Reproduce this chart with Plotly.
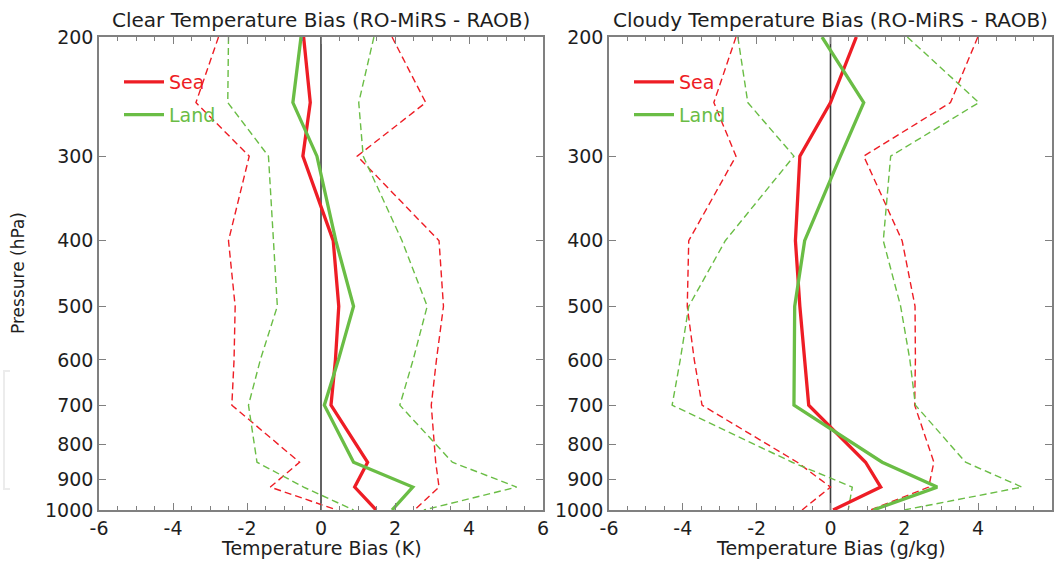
import plotly.graph_objects as go
import numpy as np

# Pressure levels (hPa)
pressure = [200, 250, 300, 400, 500, 600, 700, 850, 925, 1000]

# Clear panel (K)
clear_sea_mean = [-0.47, -0.29, -0.49, 0.33, 0.48, 0.39, 0.27, 1.26, 0.91, 1.49]
clear_sea_lo   = [-2.77, -3.38, -1.94, -2.50, -2.32, -2.35, -2.41, -0.58, -1.37, 0.43]
clear_sea_hi   = [1.92, 2.83, 0.98, 3.19, 3.31, 3.12, 2.98, 3.10, 3.19, 2.53]
clear_land_mean = [-0.54, -0.76, -0.11, 0.40, 0.88, 0.47, 0.09, 0.88, 2.48, 1.92]
clear_land_lo   = [-2.50, -2.52, -1.42, -1.28, -1.18, -1.64, -1.96, -1.73, -0.47, 0.88]
clear_land_hi   = [1.43, 1.02, 1.14, 2.19, 2.87, 2.49, 2.13, 3.55, 5.29, 2.78]

# Cloudy panel (g/kg)
cloudy_sea_mean = [0.70, 0.00, -0.83, -0.95, -0.83, -0.70, -0.59, 0.95, 1.36, 0.07]
cloudy_sea_lo   = [-2.56, -3.16, -2.56, -3.84, -3.88, -3.69, -3.48, -0.90, 0.00, -0.77]
cloudy_sea_hi   = [3.99, 3.25, 0.90, 1.94, 2.29, 2.30, 2.28, 2.80, 2.66, 1.08]
cloudy_land_mean = [-0.23, 0.90, 0.27, -0.70, -0.97, -0.99, -0.99, 1.40, 2.89, 1.16]
cloudy_land_lo   = [-2.51, -2.24, -0.99, -2.85, -3.84, -4.07, -4.29, -1.04, 0.59, 0.48]
cloudy_land_hi   = [2.08, 4.02, 1.63, 1.43, 1.90, 2.15, 2.30, 3.66, 5.19, 1.99]

ytick_vals = [200, 300, 400, 500, 600, 700, 800, 900, 1000]
xtick_vals = [-6, -4, -2, 0, 2, 4, 6]
xtick_text = ["-6", "-4", "-2", "0", "2", "4", "6"]

panel_titles = ["Clear Temperature Bias (RO-MiRS - RAOB)",
                "Cloudy Temperature Bias (RO-MiRS - RAOB)"]
x_titles = ["Temperature Bias (K)", "Temperature Bias (g/kg)"]
y_title = "Pressure (hPa)"

RED = "#ee1d25"
GREEN = "#6abd45"
FONT = "DejaVu Sans, Verdana, sans-serif"
TXT = "#1e1e1e"
AXC = "#808080"

W, H = 1057, 562
ML, MR, MT, MB = 99, 5, 37, 52
PW, PH = W - ML - MR, H - MT - MB


def px_x(p):
    return (p - ML) / PW


def px_y(p):
    return (H - MB - p) / PH


fig = go.Figure()

panels = [
    (clear_sea_mean, clear_sea_lo, clear_sea_hi, clear_land_mean, clear_land_lo, clear_land_hi, "x", "y", "legend"),
    (cloudy_sea_mean, cloudy_sea_lo, cloudy_sea_hi, cloudy_land_mean, cloudy_land_lo, cloudy_land_hi, "x2", "y2", "legend2"),
]

for (sm, slo, shi, lm, llo, lhi, xa, ya, lg) in panels:
    fig.add_trace(go.Scatter(x=[0, 0], y=[200, 1000], mode="lines",
                             line=dict(color="#3c3c3c", width=1.6),
                             xaxis=xa, yaxis=ya, showlegend=False, hoverinfo="skip"))
    for arr in (slo, shi):
        fig.add_trace(go.Scatter(x=arr, y=pressure, mode="lines",
                                 line=dict(color=RED, width=1.4, dash="7px,4px"),
                                 xaxis=xa, yaxis=ya, showlegend=False))
    for arr in (llo, lhi):
        fig.add_trace(go.Scatter(x=arr, y=pressure, mode="lines",
                                 line=dict(color=GREEN, width=1.4, dash="7px,4px"),
                                 xaxis=xa, yaxis=ya, showlegend=False))
    fig.add_trace(go.Scatter(x=sm, y=pressure, mode="lines",
                             line=dict(color=RED, width=3.3),
                             name=f"<span style='color:{RED}'>Sea</span>",
                             legendgroup="sea", xaxis=xa, yaxis=ya, legend=lg))
    fig.add_trace(go.Scatter(x=lm, y=pressure, mode="lines",
                             line=dict(color=GREEN, width=3.3),
                             name=f"<span style='color:{GREEN}'>Land</span>",
                             legendgroup="land", xaxis=xa, yaxis=ya, legend=lg))

xdoms = [[px_x(99), px_x(543)], [px_x(609), px_x(1052)]]

common_x = dict(range=[-6, 6], tickvals=xtick_vals, ticktext=xtick_text,
                ticks="inside", ticklen=7, tickcolor=AXC, tickwidth=1.3,
                showline=True, linecolor=AXC, linewidth=1.6, mirror="ticks",
                showgrid=False, zeroline=False, automargin=False,
                minor=dict(dtick=0.5, ticks="inside", ticklen=4, tickcolor=AXC,
                           tickwidth=1.2, showgrid=False),
                tickfont=dict(family=FONT, size=19, color=TXT))
common_y = dict(type="log", range=[np.log10(1000), np.log10(200)], tickvals=ytick_vals,
                ticktext=[str(v) for v in ytick_vals],
                ticks="inside", ticklen=7, tickcolor=AXC, tickwidth=1.3, showline=True,
                linecolor=AXC, linewidth=1.6, mirror="ticks", showgrid=False,
                zeroline=False, automargin=False,
                tickfont=dict(family=FONT, size=19, color=TXT), domain=[0, 1])

legend_common = dict(xanchor="left", yanchor="top", bgcolor="rgba(0,0,0,0)",
                     font=dict(family=FONT, size=19), tracegroupgap=5, itemwidth=40,
                     borderwidth=0)

fig.update_layout(
    width=W, height=H, margin=dict(l=ML, r=MR, t=MT, b=MB, autoexpand=False),
    paper_bgcolor="white", plot_bgcolor="white",
    xaxis=dict(common_x, domain=xdoms[0], anchor="y"),
    xaxis2=dict(common_x, domain=xdoms[1], anchor="y2"),
    yaxis=dict(common_y, anchor="x"),
    yaxis2=dict(common_y, anchor="x2"),
    legend=dict(legend_common, x=px_x(119), y=px_y(63)),
    legend2=dict(legend_common, x=px_x(629), y=px_y(63)),
    showlegend=True,
)

for i in range(2):
    xc = (xdoms[i][0] + xdoms[i][1]) / 2
    fig.add_annotation(text=panel_titles[i], x=xc, y=px_y(20), xref="paper", yref="paper",
                       showarrow=False, xanchor="center", yanchor="middle",
                       font=dict(family=FONT, size=20, color=TXT))
    fig.add_annotation(text=x_titles[i], x=xc, y=px_y(548), xref="paper", yref="paper",
                       showarrow=False, xanchor="center", yanchor="middle",
                       font=dict(family=FONT, size=19, color=TXT))

fig.add_annotation(text=y_title, x=px_x(18), y=px_y(273), xref="paper", yref="paper",
                   showarrow=False, xanchor="center", yanchor="middle", textangle=-90,
                   font=dict(family=FONT, size=17, color=TXT))

# faint bracket artefact at the left edge of the reference
fig.add_shape(type="path", path=f"M {px_x(10)} {px_y(371)} L {px_x(4)} {px_y(371)} L {px_x(4)} {px_y(489)} L {px_x(10)} {px_y(489)}",
              xref="paper", yref="paper", line=dict(color="#ececec", width=2))

fig.write_html("out.html", config={"displayModeBar": False},
               post_script="document.body.style.margin='0';document.body.style.overflow='hidden';")
